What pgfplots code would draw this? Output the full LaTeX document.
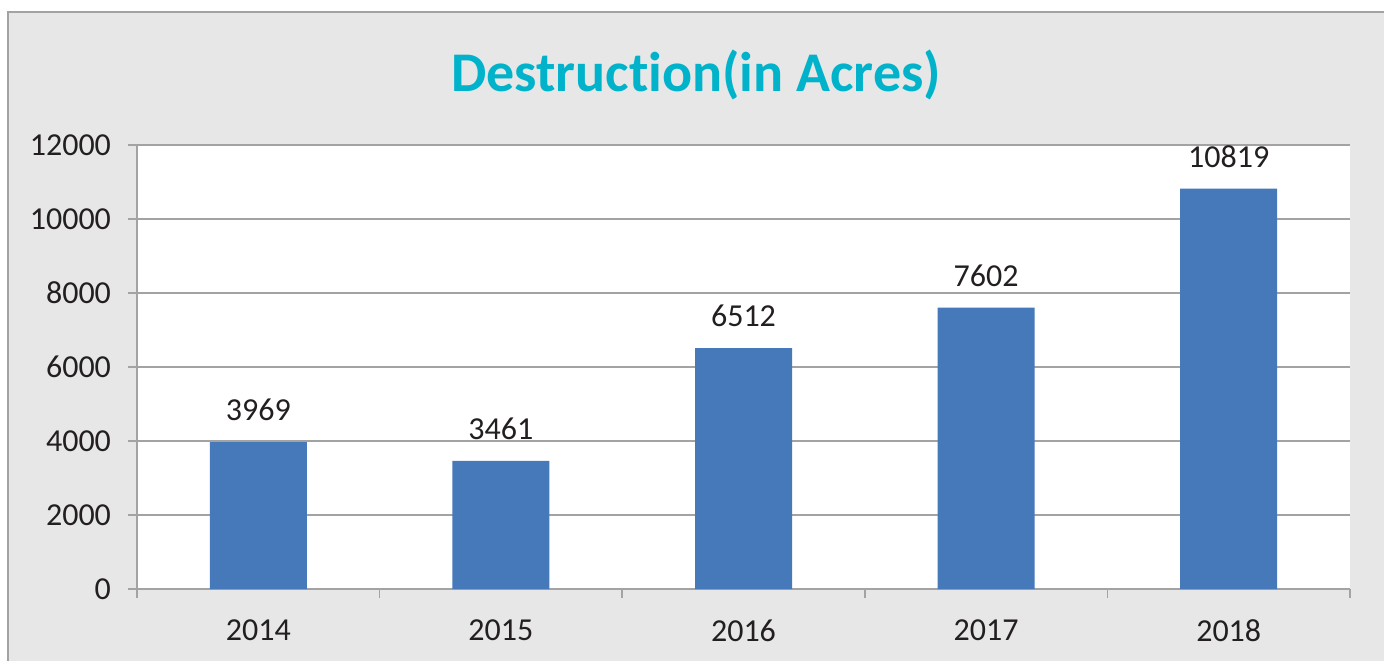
\documentclass[border=0pt]{standalone}
\usepackage{pgfplots}
\pgfplotsset{compat=1.18}
\usepackage{fontspec}
\setmainfont{Carlito}[RawFeature={-liga;-clig;-calt;-dlig}]
\definecolor{bgc}{HTML}{E6E7E6}
\definecolor{barc}{HTML}{4579B9}
\definecolor{gridc}{HTML}{A3A3A3}
\definecolor{titlec}{HTML}{00B3CB}
\definecolor{txtc}{HTML}{231F20}
\begin{document}
\begin{tikzpicture}
\path[use as bounding box, fill=white] (0pt,0pt) rectangle (692pt,330pt);
\fill[bgc] (4pt,-5pt) rectangle (700pt,324pt);
\draw[gridc, line width=0.8pt] (4pt,-5pt) -- (4pt,324pt) -- (700pt,324pt);
\node[font=\bfseries\fontsize{28}{32}\selectfont, text=titlec] at (348pt,292.5pt) {Destruc\kern0pt tion(in Acres)};
\begin{axis}[
  at={(68.5pt,35.5pt)}, anchor=south west,
  scale only axis, width=606.5pt, height=222pt,
  xmin=-0.5, xmax=4.5, ymin=0, ymax=12000,
  axis lines=left,
  axis line style={draw=gridc, -, line width=0.8pt},
  axis background/.style={fill=white},
  ymajorgrids, grid style={gridc, line width=0.8pt},
  ytick={0,2000,...,12000},
  xtick={0,1,2,3,4},
  xticklabels={2014,2015,2016,2017,2018},
  minor xtick={-0.5,0.5,...,4.5},
  major x tick style={draw=none},
  tick style={gridc, line width=0.8pt},
  tick align=outside,
  major tick length=4.5pt, minor tick length=4.5pt,
  ticklabel style={font=\fontsize{16}{19}\selectfont, text=txtc},
  yticklabel style={xshift=-5pt},
  xticklabel style={yshift=-7.5pt},
  scaled y ticks=false,
  /pgf/number format/assume math mode=true,
  yticklabel={\pgfmathprintnumber[fixed,1000 sep={}]{\tick}},
  ybar, bar width=48.5pt,
  nodes near coords,
  nodes near coords style={font=\fontsize{16}{19}\selectfont, text=txtc, anchor=south, inner sep=0pt, yshift=10.5pt, /pgf/number format/.cd, fixed, 1000 sep={}},
  clip=false,
]
\addplot[fill=barc, draw=none] coordinates {(0,3969) (1,3461) (2,6512) (3,7602) (4,10819)};
\end{axis}
\end{tikzpicture}
\end{document}
